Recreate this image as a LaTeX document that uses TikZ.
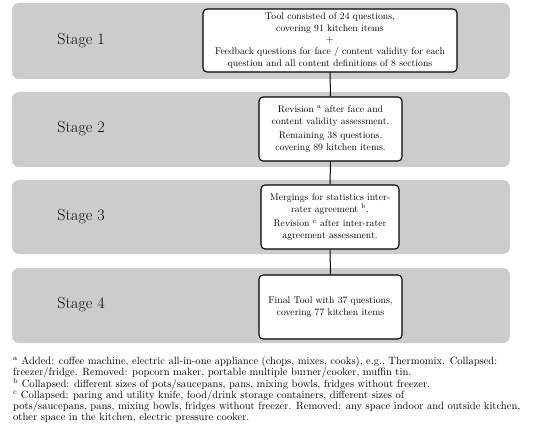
\documentclass[tikz,border=0pt]{standalone}
\usepackage{tikz}
\definecolor{bandgray}{RGB}{204,204,204}
\tikzset{
  band/.style={fill=bandgray, draw=none, rounded corners=7pt},
  stagelbl/.style={font=\fontsize{16}{18}\selectfont, anchor=center},
  tbox/.style={draw=black, fill=white, line width=1.1pt, rounded corners=4pt, align=center, inner sep=0pt, font=\fontsize{9.7}{11.6}\selectfont},
  link/.style={draw=black, line width=1pt},
  note/.style={anchor=north west, align=left, inner sep=0pt, font=\fontsize{10.55}{11}\selectfont}
}
\begin{document}
\begin{tikzpicture}[x=1pt,y=-1pt]
\useasboundingbox (0,0) rectangle (550,444);
% bands
\fill[band] (12,3) rectangle (510,79);
\fill[band] (12,92) rectangle (510,167);
\fill[band] (12,180) rectangle (510,254);
\fill[band] (12,268) rectangle (510,343);
% stage labels
\node[stagelbl] (s1) at (81,41) {Stage 1};
\node[stagelbl] (s2) at (81,129) {Stage 2};
\node[stagelbl] (s3) at (81,217) {Stage 3};
\node[stagelbl] (s4) at (81,305) {Stage 4};
% boxes
\node[tbox, minimum width=254pt, minimum height=63pt] (b1) at (330,40.5)
 {Tool consisted of 24 questions,\\ covering 91 kitchen items\\ +\\ Feedback questions for face / content validity for each\\ question and all content definitions of 8 sections};
\node[tbox, minimum width=143pt, minimum height=64pt] (b2) at (330.5,129)
 {Revision \textsuperscript{a} after face and\\ content validity assessment.\\[3pt] Remaining 38 questions,\\ covering 89 kitchen items.};
\node[tbox, minimum width=138pt, minimum height=64pt] (b3) at (330,217)
 {Mergings for statistics inter-\\ rater agreement \textsuperscript{b}.\\[3pt] Revision \textsuperscript{c} after inter-rater\\ agreement assessment.};
\node[tbox, minimum width=143pt, minimum height=64pt] (b4) at (330.5,307)
 {Final Tool with 37 questions,\\ covering 77 kitchen items};
% connectors
\draw[link] (b1.south) -- (b2.north);
\draw[link] (b2.south) -- (b3.north);
\draw[link] (b3.south) -- (b4.north);
% notes
\node[note] (n) at (13,356) {\textsuperscript{a} Added: coffee machine, electric all-in-one appliance (chops, mixes, cooks), e.g., Thermomix. Collapsed:\\
freezer/fridge. Removed: popcorn maker, portable multiple burner/cooker, muffin tin.\\
\textsuperscript{b} Collapsed: different sizes of pots/saucepans, pans, mixing bowls, fridges without freezer.\\
\textsuperscript{c} Collapsed: paring and utility knife, food/drink storage containers, different sizes of\\
pots/saucepans, pans, mixing bowls, fridges without freezer. Removed: any space indoor and outside kitchen,\\
other space in the kitchen, electric pressure cooker.};
\end{tikzpicture}
\end{document}
